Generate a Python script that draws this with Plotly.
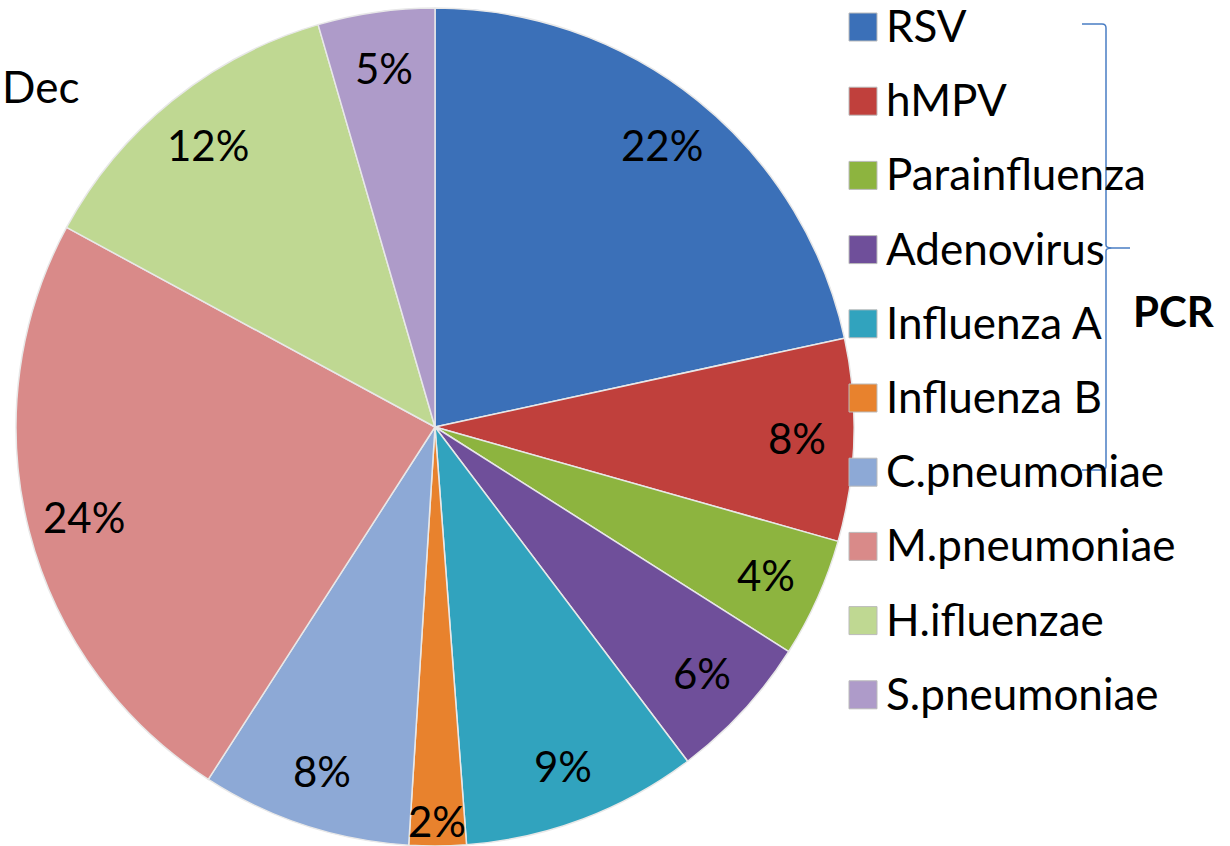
import math
import plotly.graph_objects as go

W, H = 1230, 846

categories = ["RSV", "hMPV", "Parainfluenza", "Adenovirus", "Influenza A",
              "Influenza B", "C.pneumoniae", "M.pneumoniae", "H.ifluenzae", "S.pneumoniae"]
values = [21.6, 7.8, 4.6, 5.7, 9.1, 2.2, 8.1, 23.8, 12.6, 4.5]
pct_labels = ["22%", "8%", "4%", "6%", "9%", "2%", "8%", "24%", "12%", "5%"]
colors = ["#3B70B8", "#C0403C", "#8DB43F", "#6F4F9A", "#31A3BE",
          "#E8822D", "#8DA9D6", "#D98A89", "#BFD892", "#AE9BC9"]

FONT = "Lato"

def px(x):
    return min(max(x / W, 0.0), 1.0)

def py(y):
    return min(max(1 - y / H, 0.0), 1.0)

# pie geometry (pixels)
CX, CY, R = 435, 427, 419

fig = go.Figure()
fig.add_trace(go.Pie(
    labels=categories,
    values=values,
    textinfo="none",
    marker=dict(colors=colors, line=dict(color="#E8E8E8", width=1.5)),
    sort=False,
    direction="clockwise",
    rotation=0,
    showlegend=False,
    domain=dict(x=[px(CX - R), px(CX + R)], y=[py(CY + R), py(CY - R)]),
    hoverinfo="label+percent",
))

shapes = []
annotations = []

# percentage labels placed at the mid-angle of each slice
total = sum(values)
cum = 0.0
for v, lab in zip(values, pct_labels):
    theta = 2 * math.pi * (cum + v / 2) / total
    cum += v
    frac = 0.94 if v / total < 0.03 else 0.865
    x = CX + frac * R * math.sin(theta)
    y = CY - frac * R * math.cos(theta)
    annotations.append(dict(x=x / W, y=1 - y / H, xref="paper", yref="paper", text=lab,
                            showarrow=False, xanchor="center", yanchor="middle",
                            font=dict(family=FONT, size=42, color="black")))

# legend (manual, evenly spaced rows)
y0, step = 27.0, 74.2
for i, (cat, col) in enumerate(zip(categories, colors)):
    yc = y0 + i * step
    shapes.append(dict(type="rect", xref="paper", yref="paper",
                       x0=px(849), x1=px(877), y0=py(yc + 14), y1=py(yc - 14),
                       fillcolor=col, line=dict(color="#BBBBBB", width=1)))
    annotations.append(dict(x=px(884), y=py(yc - 2), xref="paper", yref="paper",
                            text=cat, showarrow=False, xanchor="left", yanchor="middle",
                            font=dict(family=FONT, size=44, color="black")))

# bracket
bx, btop, bbot, bmid = 1106, 24, 470, 248
path = (f"M {px(1082)},{py(btop)} L {px(bx - 4)},{py(btop)} Q {px(bx)},{py(btop)} {px(bx)},{py(btop + 4)} "
        f"L {px(bx)},{py(bmid - 3)} Q {px(bx)},{py(bmid)} {px(bx + 6)},{py(bmid)} L {px(1130)},{py(bmid)} "
        f"M {px(bx + 6)},{py(bmid)} Q {px(bx)},{py(bmid)} {px(bx)},{py(bmid + 3)} "
        f"L {px(bx)},{py(bbot - 4)} Q {px(bx)},{py(bbot)} {px(bx - 4)},{py(bbot)} L {px(1082)},{py(bbot)}")
shapes.append(dict(type="path", xref="paper", yref="paper", path=path,
                   line=dict(color="#4A7EC4", width=1.5)))

annotations.append(dict(x=px(1174), y=py(311), xref="paper", yref="paper", text="<b>PCR</b>",
                        showarrow=False, xanchor="center", yanchor="middle",
                        font=dict(family=FONT, size=42, color="black")))
annotations.append(dict(x=px(0), y=py(86), xref="paper", yref="paper", text="Dec",
                        showarrow=False, xanchor="left", yanchor="middle",
                        font=dict(family=FONT, size=44, color="black")))

fig.update_layout(
    width=W, height=H,
    margin=dict(l=0, r=0, t=0, b=0),
    paper_bgcolor="white", plot_bgcolor="white",
    shapes=shapes, annotations=annotations,
)

fig.write_html("out.html", config={"displayModeBar": False},
               post_script="document.body.style.margin='0';document.body.style.overflow='hidden';")
